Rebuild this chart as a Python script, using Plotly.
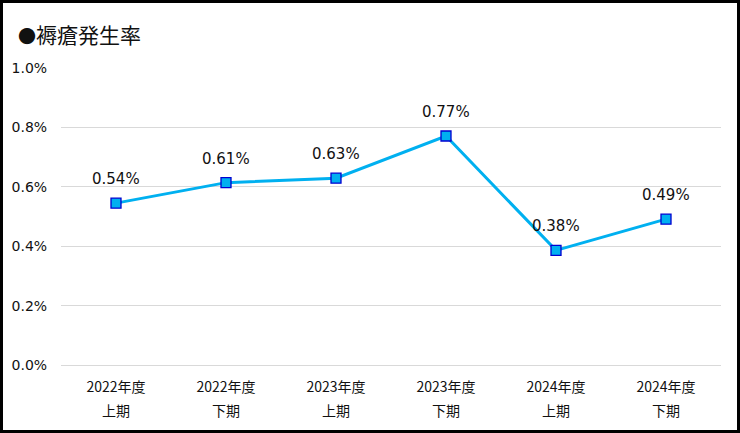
import plotly.graph_objects as go

categories = ["2022年度 上期", "2022年度 下期", "2023年度 上期", "2023年度 下期", "2024年度 上期", "2024年度 下期"]
year_labels = ["2022年度", "2022年度", "2023年度", "2023年度", "2024年度", "2024年度"]
half_labels = ["上期", "下期", "上期", "下期", "上期", "下期"]
rates = [0.545, 0.614, 0.629, 0.771, 0.386, 0.491]
rate_labels = ["0.54%", "0.61%", "0.63%", "0.77%", "0.38%", "0.49%"]
y_ticks = [0.0, 0.2, 0.4, 0.6, 0.8, 1.0]
y_tick_labels = ["0.0%", "0.2%", "0.4%", "0.6%", "0.8%", "1.0%"]

W, H = 740, 433
L, R, T, B = 61, 19, 68, 68
pw, ph = W - L - R, H - T - B

fig = go.Figure()
fig.add_trace(go.Scatter(
    x=categories, y=rates, mode="lines+markers",
    line=dict(color="#00b0f0", width=3),
    marker=dict(symbol="square", size=10, color="#00b0f0",
                line=dict(color="#0000d0", width=1.3)),
    hoverinfo="skip", showlegend=False,
))

annotations = []
for c, v, t in zip(categories, rates, rate_labels):
    annotations.append(dict(x=c, y=v, text=t, showarrow=False, yshift=24, yanchor="middle",
                            font=dict(family="DejaVu Sans", size=15, color="#111111")))
for c, h in zip(categories, half_labels):
    annotations.append(dict(x=c, y=0, yref="paper", text=h, showarrow=False, yanchor="middle",
                            yshift=-45, font=dict(family="Noto Sans CJK JP", size=14, color="#111111")))

fig.update_layout(
    width=W, height=H,
    margin=dict(l=L, r=R, t=T, b=B),
    paper_bgcolor="white", plot_bgcolor="white",
    title=dict(text="<span style='font-size:18px'>●</span>褥瘡発生率", x=18 / W, xanchor="left",
               y=1 - 36 / H, yanchor="middle",
               font=dict(family="Noto Sans CJK JP", size=21, color="#111111")),
    xaxis=dict(type="category", tickmode="array", tickvals=categories, ticktext=year_labels,
               showgrid=False, zeroline=False, showline=False,
               ticks="outside", ticklen=9, tickcolor="rgba(0,0,0,0)",
               tickfont=dict(family="Noto Sans CJK JP", size=14, color="#111111"),
               range=[-0.5, 5.5]),
    yaxis=dict(range=[0, 1.0], tickmode="array", tickvals=y_ticks, ticktext=y_tick_labels,
               showgrid=True, gridcolor="#d9d9d9", gridwidth=1,
               zeroline=True, zerolinecolor="#d9d9d9", zerolinewidth=1,
               showline=False, ticks="outside", ticklen=10, tickcolor="rgba(0,0,0,0)",
               tickfont=dict(family="DejaVu Sans", size=14, color="#111111")),
    annotations=annotations,
    shapes=[dict(type="rect", xref="paper", yref="paper",
                 x0=(1.5 - L) / pw, x1=(W - 1.5 - L) / pw,
                 y0=-(H - 1.5 - T - ph) / ph, y1=(H - 1.5 - B) / ph,
                 line=dict(color="black", width=3), fillcolor="rgba(0,0,0,0)", layer="above")],
)

fig.write_html("out.html", config={"displayModeBar": False},
               post_script="document.body.style.margin='0';")
